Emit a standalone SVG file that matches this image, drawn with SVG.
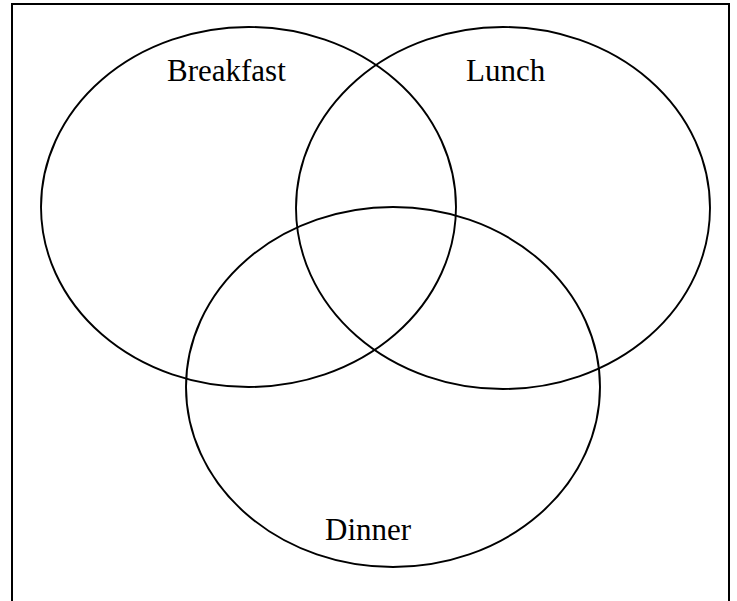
<svg xmlns="http://www.w3.org/2000/svg" width="737" height="601" viewBox="0 0 737 601">
<style>
.set{fill:none;stroke:#000;stroke-width:1.9}
.lbl{font-family:"Liberation Serif","Times New Roman",serif;font-size:31px;fill:#000}
</style>
<rect x="0" y="0" width="737" height="601" fill="#fff"/>
<rect id="frame" x="12" y="4" width="717" height="620" fill="none" stroke="#000" stroke-width="2"/>
<g id="breakfast">
<ellipse class="set" cx="248.5" cy="207" rx="207.5" ry="180"/>
<text class="lbl" x="167" y="81">Breakfast</text>
</g>
<g id="lunch">
<ellipse class="set" cx="503" cy="208" rx="207" ry="181"/>
<text class="lbl" x="466" y="81">Lunch</text>
</g>
<g id="dinner">
<ellipse class="set" cx="393" cy="387" rx="207" ry="180"/>
<text class="lbl" x="325" y="540">Dinner</text>
</g>
<g id="connectors"></g>
</svg>
